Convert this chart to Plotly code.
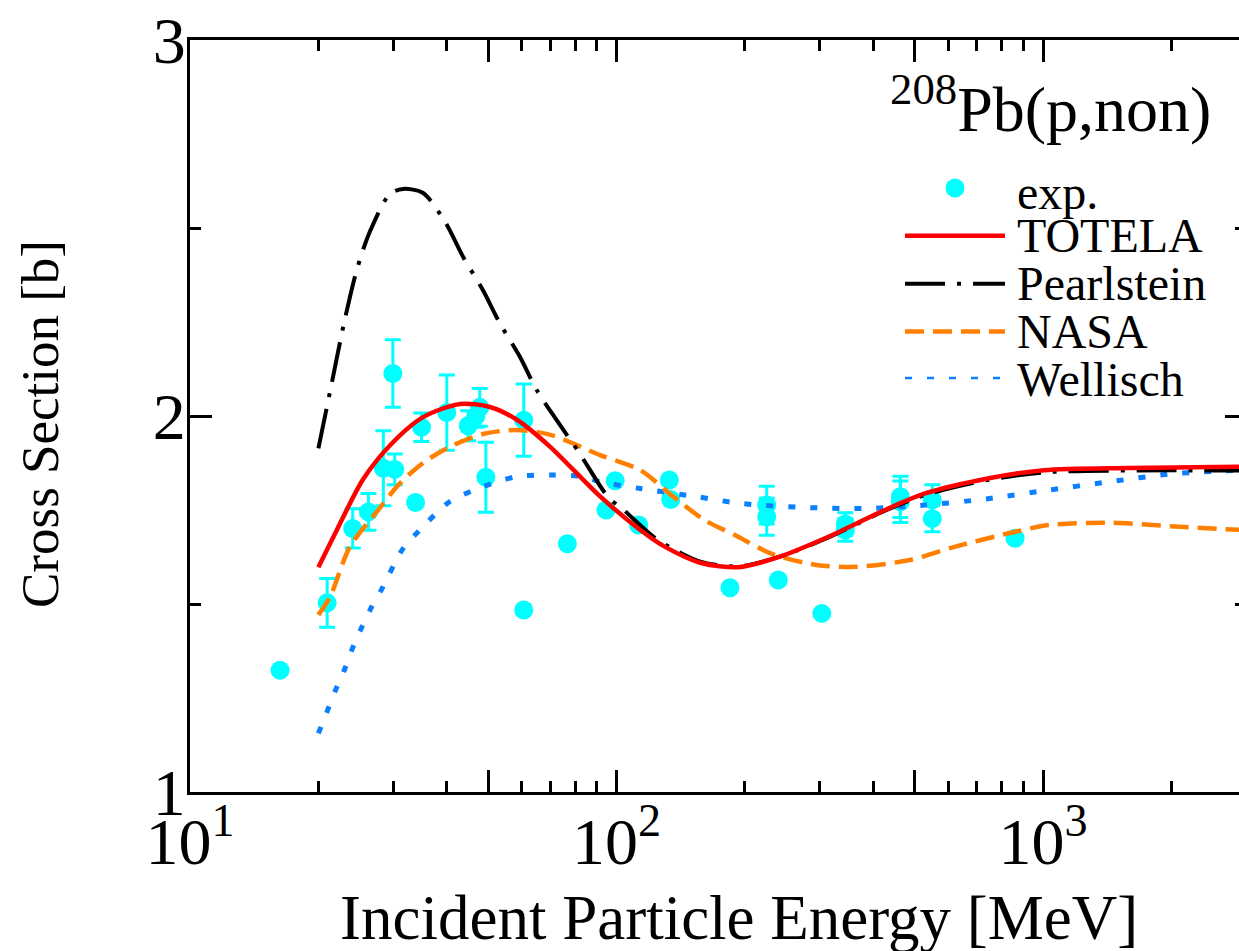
import plotly.graph_objects as go

# ---------------- data ----------------
# experimental points with error bars
exp_err_E = [20.97, 24.07, 26.2, 28.4, 30.2, 29.9, 34.9, 40.0, 44.9, 47.8, 46.8, 49.4, 60.6,
             225, 225, 344, 344, 463, 463, 550, 550]
exp_err_y = [1.503, 1.701, 1.745, 1.861, 1.858, 2.113, 1.970, 2.009, 1.974, 2.023, 2.000, 1.837, 1.989,
             1.763, 1.732, 1.713, 1.697, 1.785, 1.772, 1.777, 1.727]
exp_err_dy = [0.065, 0.052, 0.049, 0.100, 0.041, 0.090, 0.038, 0.100, 0.040, 0.050, 0.030, 0.093, 0.096,
              0.050, 0.049, 0.030, 0.030, 0.055, 0.055, 0.040, 0.035]
# experimental points without error bars
exp_E = [16.26, 33.8, 60.6, 76.7, 94.5, 99.3, 112.7, 133, 134, 184.5, 239.5, 303, 860]
exp_y = [1.324, 1.770, 1.484, 1.660, 1.750, 1.828, 1.710, 1.830, 1.778, 1.543, 1.564, 1.475, 1.675]

totela_E = [20, 22.1, 25.4, 29.5, 35.2, 43, 50.5, 58.4, 69.9, 91.4, 113.7, 130, 158, 193,
            241.6, 314, 426, 529, 742, 1005, 1588, 2900]
totela_y = [1.598, 1.697, 1.830, 1.923, 1.997, 2.032, 2.024, 1.990, 1.918, 1.787, 1.697, 1.652, 1.609, 1.598,
            1.626, 1.679, 1.750, 1.794, 1.834, 1.856, 1.862, 1.865]

pearl_E = [20, 21.3, 23.1, 24.6, 26.4, 29.4, 31.6, 35.2, 39.6, 43.7, 48.6, 53.3, 59.4, 65, 72.4, 82,
           95.5, 104, 122, 133, 158, 193, 241.6, 314, 426, 529, 742, 1005, 1588, 2900]
pearl_y = [1.914, 2.065, 2.260, 2.388, 2.490, 2.590, 2.604, 2.593, 2.517, 2.423, 2.335, 2.246, 2.157, 2.069,
           1.989, 1.900, 1.785, 1.750, 1.679, 1.652, 1.612, 1.600, 1.626, 1.677, 1.748, 1.790, 1.830,
           1.850, 1.855, 1.855]

nasa_E = [20, 21.3, 23.7, 27.4, 31, 35.2, 40.6, 48.6, 58.4, 70, 91.5, 113.7, 136, 161, 189, 230.6,
          294, 366, 487, 620, 830, 1030, 1430, 1990, 2900]
nasa_y = [1.471, 1.519, 1.652, 1.745, 1.820, 1.875, 1.918, 1.952, 1.963, 1.950, 1.896, 1.856, 1.785, 1.723,
          1.684, 1.634, 1.604, 1.599, 1.617, 1.652, 1.688, 1.710, 1.716, 1.707, 1.697]

well_E = [20, 20.9, 21.9, 23, 24, 25.2, 26.6, 28.2, 31.6, 34.6, 40.6, 48.6, 58.4, 70, 83.5, 91.5,
          113.7, 155, 197, 274, 382, 529, 742, 1030, 1430, 2000, 2900]
well_y = [1.156, 1.210, 1.269, 1.324, 1.380, 1.435, 1.490, 1.541, 1.648, 1.697, 1.772, 1.812, 1.839, 1.843,
          1.839, 1.825, 1.807, 1.785, 1.767, 1.757, 1.754, 1.763, 1.780, 1.803, 1.825, 1.846, 1.856]

x_tickvals = [10, 50, 100, 500, 1000]
x_ticktext = ["10<sup>1</sup>", "", "10<sup>2</sup>", "", "10<sup>3</sup>"]
x_minor = [m * 10 ** d for d in (1, 2, 3) for m in (2, 3, 4, 6, 7, 8, 9)]
y_tickvals = [1, 2, 3]
y_ticktext = ["1", "2", "3"]

legend_title = "<sup>208</sup>Pb(p,non)"
legend_names = ["exp.", "TOTELA", "Pearlstein", "NASA", "Wellisch"]

# ---------------- styling ----------------
FONT = "Liberation Serif"
W, H = 1239, 951
ML, MR, MT, MB = 190, 0, 40, 159
PW, PH = W - ML - MR, H - MT - MB
DECADE = 426.5
XMAX = 1 + PW / DECADE
X0, Y1 = ML, H - MB                # pixel of plot-area left / bottom

CYAN = "#00FFFF"
RED = "#FF0000"
BLACK = "#000000"
ORANGE = "#FF8000"
BLUE = "#0A80FF"

styles = {
    "TOTELA": dict(color=RED, width=4.5, dash="solid"),
    "Pearlstein": dict(color=BLACK, width=4, dash="40px,12px,4px,12px"),
    "NASA": dict(color=ORANGE, width=4.5, dash="19px,9px"),
    "Wellisch": dict(color=BLUE, width=5, dash="7px,15px"),
}


def fx(xp):  # pixel x -> paper fraction
    return (xp - X0) / PW


def fy(yp):  # pixel y -> paper fraction
    return (Y1 - yp) / PH


fig = go.Figure()

# experimental data
fig.add_trace(go.Scatter(
    x=exp_err_E, y=exp_err_y, mode="markers",
    marker=dict(color=CYAN, size=19),
    error_y=dict(type="data", array=exp_err_dy, color=CYAN, thickness=3, width=8),
    showlegend=False))
fig.add_trace(go.Scatter(
    x=exp_E, y=exp_y, mode="markers",
    marker=dict(color=CYAN, size=19), showlegend=False))

# model curves
for name, xs, ys in [("Wellisch", well_E, well_y), ("NASA", nasa_E, nasa_y),
                     ("Pearlstein", pearl_E, pearl_y), ("TOTELA", totela_E, totela_y)]:
    fig.add_trace(go.Scatter(x=xs, y=ys, mode="lines", name=name,
                             line=dict(shape="spline", smoothing=0.8, **styles[name]),
                             showlegend=False))

# custom legend drawn in an inset axis: x 0..1 is the sample, rows 0..4
fig.add_trace(go.Scatter(x=[0.5], y=[0], mode="markers", xaxis="x2", yaxis="y2",
                         marker=dict(color=CYAN, size=19), showlegend=False,
                         hoverinfo="skip", cliponaxis=False))
for k, name in enumerate(legend_names[1:], start=1):
    fig.add_trace(go.Scatter(x=[0, 1], y=[k, k], mode="lines", xaxis="x2", yaxis="y2",
                             line=styles[name], showlegend=False, hoverinfo="skip",
                             cliponaxis=False))
for k, name in enumerate(legend_names):
    fig.add_annotation(x=1.1, y=k + (0.1 if k == 0 else 0.0), xref="x2", yref="y2", text=name,
                       showarrow=False, xanchor="left", yanchor="middle",
                       font=dict(family=FONT, size=48, color="black"))

fig.add_annotation(x=fx(1213), y=fy(104), xref="paper", yref="paper", text=legend_title,
                   showarrow=False, xanchor="right", yanchor="middle",
                   font=dict(family=FONT, size=64, color="black"))

# dummy trace for the right-hand tick axis
fig.add_trace(go.Scatter(x=[], y=[], yaxis="y3", showlegend=False, hoverinfo="skip"))

# axis titles
fig.add_annotation(x=fx(739), y=fy(918), xref="paper", yref="paper",
                   text="Incident Particle Energy [MeV]", showarrow=False,
                   xanchor="center", yanchor="middle",
                   font=dict(family=FONT, size=63, color="black"))
fig.add_annotation(x=fx(40), y=fy(424), xref="paper", yref="paper",
                   text="Cross Section [b]", showarrow=False, textangle=-90,
                   xanchor="center", yanchor="middle",
                   font=dict(family=FONT, size=53, color="black"))

tickfont = dict(family=FONT, size=66, color="black")
hidden = dict(showgrid=False, zeroline=False, showline=False, ticks="",
              showticklabels=False, fixedrange=True)
fig.update_layout(
    width=W, height=H,
    margin=dict(l=ML, r=MR, t=MT, b=MB, pad=0),
    paper_bgcolor="white", plot_bgcolor="white",
    font=dict(family=FONT, color="black"),
    showlegend=False,
    xaxis=dict(type="log", range=[1, XMAX], showgrid=False, zeroline=False,
               showline=True, linecolor="black", linewidth=3, mirror="ticks",
               ticks="inside", ticklen=22, tickwidth=3, tickcolor="black",
               tickvals=x_tickvals, ticktext=x_ticktext, tickfont=tickfont,
               ticklabelstandoff=-10, ticklabeloverflow="allow",
               minor=dict(tickvals=x_minor, ticks="inside", ticklen=11, tickwidth=3,
                          tickcolor="black", showgrid=False),
               automargin=False),
    yaxis=dict(range=[1, 3], showgrid=False, zeroline=False,
               showline=True, linecolor="black", linewidth=3, mirror=False,
               ticks="inside", ticklen=22, tickwidth=3, tickcolor="black",
               tickvals=y_tickvals, ticktext=y_ticktext, tickfont=tickfont,
               ticklabelstandoff=-12, ticklabeloverflow="allow",
               minor=dict(dtick=0.5, ticks="inside", ticklen=11, tickwidth=3,
                          tickcolor="black", showgrid=False),
               automargin=False),
    yaxis3=dict(range=[1, 3], overlaying="y", side="right", anchor="x",
                showgrid=False, zeroline=False, showline=False, showticklabels=False,
                ticks="inside", ticklen=14, tickwidth=3, tickcolor="black",
                tickvals=y_tickvals,
                minor=dict(dtick=0.5, ticks="inside", ticklen=4, tickwidth=3,
                           tickcolor="black", showgrid=False)),
    xaxis2=dict(domain=[fx(905), fx(1225)], range=[0, 3.2], anchor="y2", **hidden),
    yaxis2=dict(domain=[fy(379.3), fy(188)], range=[4, 0], anchor="x2", **hidden),
)

# remove the default 8px page margin so the figure fills the window exactly
fig.write_html("out.html",
               config={"displayModeBar": False},
               post_script="document.body.style.margin='0';document.body.style.overflow='hidden';")
